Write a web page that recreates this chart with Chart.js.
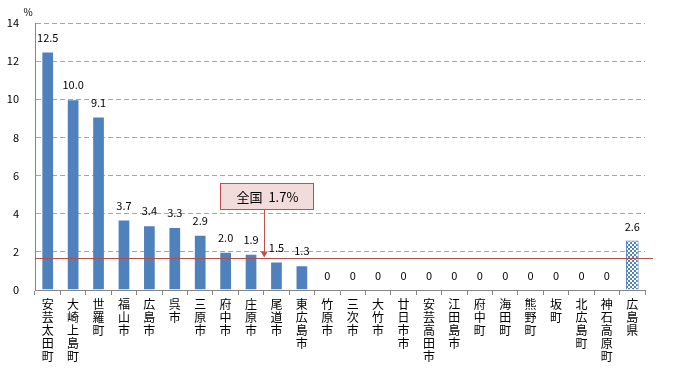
<!DOCTYPE html>
<html>
<head>
<meta charset="utf-8">
<script src="https://cdn.jsdelivr.net/npm/chart.js@4"></script>
<style>
  html, body { margin: 0; padding: 0; background: #fff; }
  #wrap { width: 677px; height: 371px; }
</style>
</head>
<body>
<div id="wrap"><canvas id="grafico" width="677" height="371"></canvas></div>
<script>
const labels = ['安芸太田町', '大崎上島町', '世羅町', '福山市', '広島市', '呉市', '三原市', '府中市',
  '庄原市', '尾道市', '東広島市', '竹原市', '三次市', '大竹市', '廿日市市', '安芸高田市',
  '江田島市', '府中町', '海田町', '熊野町', '坂町', '北広島町', '神石高原町', '広島県']
const values = [12.5, 10.0, 9.1, 3.7, 3.4, 3.3, 2.9, 2.0, 1.9, 1.5, 1.3,
  0, 0, 0, 0, 0, 0, 0, 0, 0, 0, 0, 0, 2.6]
const valueTexts = ['12.5', '10.0', '9.1', '3.7', '3.4', '3.3', '2.9', '2.0', '1.9', '1.5', '1.3',
  '0', '0', '0', '0', '0', '0', '0', '0', '0', '0', '0', '0', '2.6']
const national = 1.7
const nationalText = '全国  1.7%'
const yTicks = [0, 2, 4, 6, 8, 10, 12, 14]

const font = "'Noto Sans CJK JP', 'Noto Sans', sans-serif"
Chart.defaults.font.family = font
Chart.defaults.color = '#000'

// checkered fill for the prefecture bar
const pc = document.createElement('canvas')
pc.width = 4; pc.height = 4
const p = pc.getContext('2d')
p.fillStyle = '#fff'; p.fillRect(0, 0, 4, 4)
p.fillStyle = '#4f81bd'; p.fillRect(0, 0, 2, 2); p.fillRect(2, 2, 2, 2)
const checker = p.createPattern(pc, 'repeat')

const colors = values.map((v, i) => i === values.length - 1 ? checker : '#4f81bd')
const borders = values.map((v, i) => i === values.length - 1 ? '#4f81bd' : 'transparent')

const extras = {
  id: 'extras',
  afterDatasetsDraw(chart) {
    const ctx = chart.ctx
    const x = chart.scales.x, y = chart.scales.y
    const meta = chart.getDatasetMeta(0)
    ctx.save()
    // national line
    const ly = Math.round(y.getPixelForValue(national)) + 0.5
    ctx.strokeStyle = '#b0504c'
    ctx.lineWidth = 1
    ctx.beginPath()
    ctx.moveTo(chart.chartArea.left, ly)
    ctx.lineTo(chart.chartArea.right + 8, ly)
    ctx.stroke()
    // value labels
    ctx.fillStyle = '#000'
    ctx.font = '11px ' + font
    ctx.textAlign = 'center'
    ctx.textBaseline = 'middle'
    meta.data.forEach((bar, i) => {
      ctx.fillText(valueTexts[i], bar.x, bar.y - 14)
    })
    // callout
    const ax = (x.getPixelForValue(8) + x.getPixelForValue(9)) / 2
    const bx = 220, by = 183, bw = 93, bh = 26
    ctx.fillStyle = '#f2dcdb'
    ctx.strokeStyle = '#c0504d'
    ctx.fillRect(bx + 0.5, by + 0.5, bw, bh)
    ctx.strokeRect(bx + 0.5, by + 0.5, bw, bh)
    ctx.beginPath()
    ctx.moveTo(Math.round(ax) + 0.5, by + bh)
    ctx.lineTo(Math.round(ax) + 0.5, ly - 5)
    ctx.stroke()
    ctx.fillStyle = '#c0504d'
    ctx.beginPath()
    ctx.moveTo(ax + 0.5, ly - 1)
    ctx.lineTo(ax - 3, ly - 7)
    ctx.lineTo(ax + 4, ly - 7)
    ctx.closePath()
    ctx.fill()
    ctx.fillStyle = '#000'
    ctx.font = '13px ' + font
    ctx.fillText(nationalText, bx + bw / 2 + 1, by + bh / 2 + 1)
    // unit
    ctx.font = '10px ' + font
    ctx.fillText('%', 28, 12)
    ctx.restore()
  }
}

const data = {
  labels: labels.map(s => s.split('')),
  datasets: [{
    data: values,
    backgroundColor: colors,
    borderColor: borders,
    borderWidth: 1,
    categoryPercentage: 1,
    barPercentage: 0.5
  }]
}

const config = {
  type: 'bar',
  data,
  plugins: [extras],
  options: {
    responsive: false,
    animation: false,
    layout: { padding: { top: 23, right: 32 } },
    plugins: { legend: { display: false }, tooltip: { enabled: false } },
    scales: {
      x: {
        grid: { offset: true, drawOnChartArea: false, tickLength: 5, color: '#868686' },
        border: { color: '#868686' },
        ticks: { maxRotation: 0, minRotation: 0, autoSkip: false, padding: 3,
          font: { size: 12, lineHeight: 1.08 } },
        afterFit(s) { s.height = 81 }
      },
      y: {
        min: 0, max: 14,
        afterBuildTicks(s) { s.ticks = yTicks.map(v => ({ value: v })) },
        grid: { drawTicks: false, color: c => c.tick && c.tick.value === 0 ? 'transparent' : '#a6a6a6' },
        border: { color: '#868686', dash: [5, 3] },
        ticks: { padding: 16, font: { size: 11 } },
        afterFit(s) { s.width = 35 }
      }
    }
  }
}

const graph = new Chart(document.getElementById('grafico'), config)
</script>
</body>
</html>
